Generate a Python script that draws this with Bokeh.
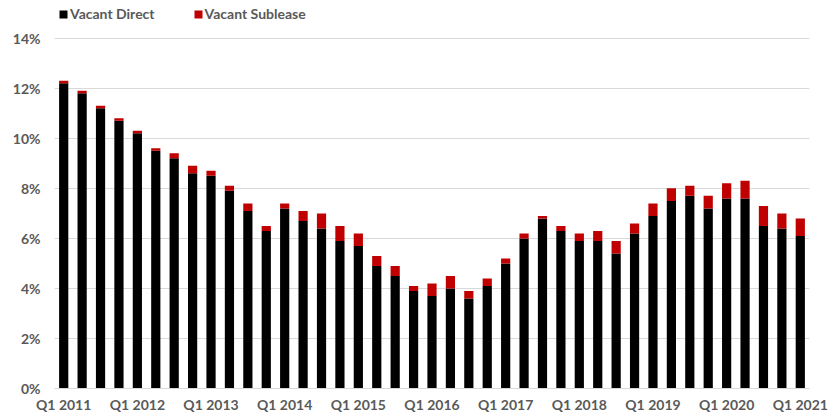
from bokeh.plotting import figure
from bokeh.models import (ColumnDataSource, Range1d, FixedTicker, PrintfTickFormatter,
                          Legend, LegendItem)
from bokeh.embed import file_html
from bokeh.resources import INLINE

# Quarterly vacancy, Q1 2011 .. Q1 2021 (percent)
quarters = [f"Q{q} {y}" for y in range(2011, 2022) for q in range(1, 5)][:41]
vacant_direct = [12.2, 11.8, 11.2, 10.7, 10.2, 9.5, 9.2, 8.6, 8.5, 7.9,
                 7.1, 6.3, 7.2, 6.7, 6.4, 5.9, 5.7, 4.9, 4.5, 3.9,
                 3.7, 4.0, 3.6, 4.1, 5.0, 6.0, 6.8, 6.3, 5.9, 5.9,
                 5.4, 6.2, 6.9, 7.5, 7.7, 7.2, 7.6, 7.6, 6.5, 6.4,
                 6.1]
vacant_sublease = [0.1, 0.1, 0.1, 0.1, 0.1, 0.1, 0.2, 0.3, 0.2, 0.2,
                   0.3, 0.2, 0.2, 0.4, 0.6, 0.6, 0.5, 0.4, 0.4, 0.2,
                   0.5, 0.5, 0.3, 0.3, 0.2, 0.2, 0.1, 0.2, 0.3, 0.4,
                   0.5, 0.4, 0.5, 0.5, 0.4, 0.5, 0.6, 0.7, 0.8, 0.6,
                   0.7]
y_ticks = [0, 2, 4, 6, 8, 10, 12, 14]

BLACK = "#000000"
RED = "#c00000"
GREY_TEXT = "#595959"
FONT = "Lato"

x = list(range(len(quarters)))
total = [d + s for d, s in zip(vacant_direct, vacant_sublease)]
src = ColumnDataSource(dict(x=x, direct=vacant_direct, total=total))

# the frame reaches up to the top edge so the legend can sit above the 14% line
p = figure(width=836, height=415, output_backend="svg", toolbar_location=None,
           x_range=Range1d(-0.5, len(quarters) - 0.5), y_range=Range1d(0, 15.39),
           min_border_left=54, min_border_right=27, min_border_top=3,
           min_border_bottom=25, outline_line_color=None)

r_direct = p.vbar(x="x", bottom=0, top="direct", width=0.5, source=src,
                  fill_color=BLACK, line_color=None)
r_sub = p.vbar(x="x", bottom="direct", top="total", width=0.5, source=src,
               fill_color=RED, line_color=None)

# axes
p.yaxis.ticker = FixedTicker(ticks=y_ticks)
p.yaxis.formatter = PrintfTickFormatter(format="%d%%")
p.yaxis.axis_line_color = None

p.xaxis.ticker = FixedTicker(ticks=x[::4])
p.xaxis.major_label_overrides = {i: quarters[i] for i in x[::4]}
p.xaxis.axis_line_color = "#d9d9d9"
p.xaxis.major_label_standoff = 7

for ax in (p.xaxis[0], p.yaxis[0]):
    ax.major_tick_line_color = None
    ax.minor_tick_line_color = None
    ax.major_tick_out = 0
    ax.major_tick_in = 0
    ax.minor_tick_out = 0
    ax.minor_tick_in = 0
    ax.major_label_text_font = FONT
    ax.major_label_text_font_style = "bold"
    ax.major_label_text_font_size = "14px"
    ax.major_label_text_color = GREY_TEXT
p.yaxis.major_label_standoff = 14

p.xgrid.grid_line_color = None
p.ygrid.grid_line_color = "#d9d9d9"
p.ygrid.grid_line_width = 1

legend = Legend(items=[LegendItem(label="Vacant Direct", renderers=[r_direct]),
                       LegendItem(label="Vacant Sublease", renderers=[r_sub])],
                orientation="horizontal", location=(4, 366),
                label_text_font=FONT, label_text_font_style="bold",
                label_text_font_size="14px", label_text_color=GREY_TEXT,
                label_height=12, glyph_width=10, glyph_height=10, label_standoff=2,
                spacing=38, padding=0, margin=0, border_line_color=None,
                background_fill_alpha=0)
p.add_layout(legend)

open("out.html", "w").write(file_html(p, INLINE))
